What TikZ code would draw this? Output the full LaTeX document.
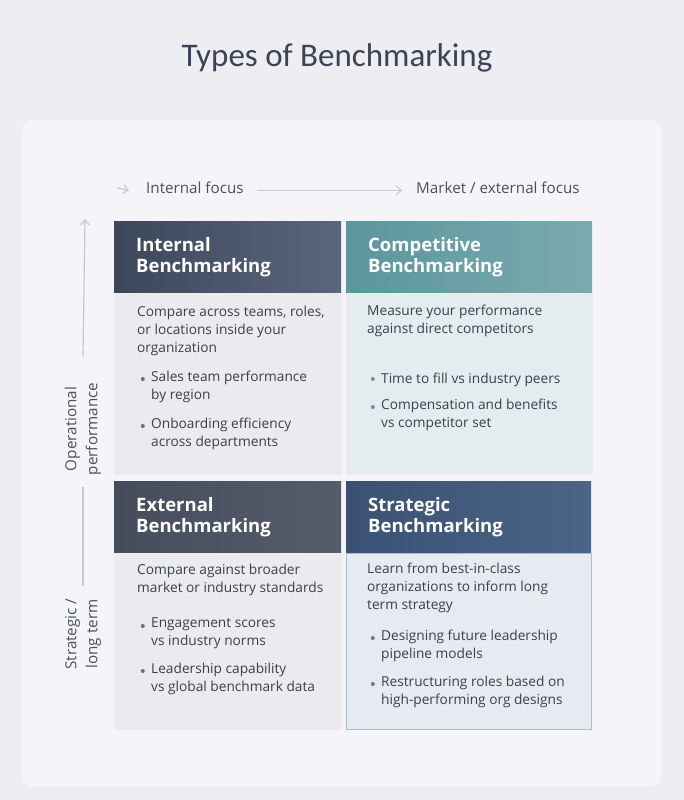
\documentclass[tikz,border=0pt]{standalone}
\usepackage{fontspec}
\setmainfont{Open Sans}
\newfontfamily\titlefont{Carlito}
\usetikzlibrary{arrows.meta,positioning}
\usepackage{xcolor}
\definecolor{PageBg}{HTML}{EDEDF2}
\definecolor{PanelBg}{HTML}{F5F5F9}
\definecolor{TitleInk}{HTML}{3B4457}
\definecolor{BodyInk}{HTML}{3A4050}
\definecolor{AxisInk}{HTML}{4A5060}
\definecolor{AxisLine}{HTML}{C6C9D2}
\definecolor{SlateA}{HTML}{3D475B}
\definecolor{SlateB}{HTML}{5A667E}
\definecolor{TealA}{HTML}{5B969C}
\definecolor{TealB}{HTML}{7BAAB0}
\definecolor{GreyA}{HTML}{454C5C}
\definecolor{GreyB}{HTML}{555D6D}
\definecolor{NavyA}{HTML}{3B5173}
\definecolor{NavyB}{HTML}{4B6587}
\definecolor{BodyGrey}{HTML}{EAEAEF}
\definecolor{BodyTeal}{HTML}{E4ECEF}
\definecolor{BodyNavy}{HTML}{E7EAF0}
\definecolor{DotGrey}{HTML}{6A7080}
\definecolor{DotTeal}{HTML}{5C9AA0}
\definecolor{DotNavy}{HTML}{6A7890}

% bullet line: name, x, baseline y, dot colour, text
\newcommand{\bpoint}[5]{%
  \fill[#4] (#2+1.8,#3-4) circle (2pt);
  \node[btext] (#1) at (#2+10,#3) {#5};}

\begin{document}
\begin{tikzpicture}[x=1pt, y=-1pt,
  qhead/.style={anchor=north west, inner xsep=22pt, inner ysep=0pt,
                minimum height=72pt, align=left, text=white,
                font=\fontsize{18.5}{21.5}\selectfont\bfseries},
  qbody/.style={anchor=north, inner sep=0pt, draw=black!7},
  % text placed by the baseline of its first line
  btext/.style={anchor=north west, yshift=12.6pt, align=left, inner sep=0pt,
                text=BodyInk, font=\fontsize{13.7}{18}\selectfont,
                execute at begin node=\strut},
  axislbl/.style={inner sep=3pt, text=AxisInk, align=center,
                  font=\fontsize{15.2}{21}\selectfont},
  axis/.style={draw=AxisLine, line width=1.2pt},
  tip/.style={-{Straight Barb[length=5pt, width=9pt]}}
]
  % page and panel
  \fill[PageBg] (0,0) rectangle (684,800);
  \fill[PanelBg, rounded corners=10pt] (22,120) rectangle (661,787);

  \node[font=\titlefont\fontsize{33}{40}\selectfont, text=TitleInk] (title) at (337,58) {Types of Benchmarking};

  % horizontal axis
  \node[axislbl, anchor=base west] (intfocus) at (143,193) {Internal focus};
  \node[axislbl, anchor=base west] (mktfocus) at (413,193) {Market / external focus};
  \coordinate (chev) at (117,188);
  \draw[axis, tip] (chev) -- ([xshift=-14pt]intfocus.mid west);
  \draw[axis, tip] ([xshift=10pt]intfocus.mid east) -- ([xshift=-11pt]mktfocus.mid west);

  % vertical axis
  \node[axislbl, rotate=90] (opperf) at (83,429) {Operational\\performance};
  \node[axislbl, rotate=90] (strat) at (83,634) {Strategic /\\long term};
  \coordinate (vtop) at (85,219);
  \draw[axis, tip] ([yshift=23pt]opperf.east) -- (vtop);
  \draw[axis] ([yshift=-9pt]opperf.west) -- ([yshift=9pt]strat.east);

  % quadrant headers
  \node[qhead, left color=SlateA, right color=SlateB, minimum width=227pt, text width=183pt] (inthdr) at (114,221) {Internal\\Benchmarking};
  \node[qhead, left color=TealA, right color=TealB, minimum width=246pt, text width=202pt] (comphdr) at (346,221) {Competitive\\Benchmarking};
  \node[qhead, left color=GreyA, right color=GreyB, minimum width=227pt, text width=183pt] (exthdr) at (114,481) {External\\Benchmarking};
  \node[qhead, left color=NavyA, right color=NavyB, minimum width=245pt, text width=201pt] (strhdr) at (346,481) {Strategic\\Benchmarking};

  % quadrant bodies
  \node[qbody, fill=BodyGrey, minimum width=227pt, minimum height=181pt, below=0pt of inthdr] (intbody) {};
  \node[qbody, fill=BodyTeal, minimum width=246pt, minimum height=181pt, below=0pt of comphdr] (compbody) {};
  \node[qbody, fill=BodyGrey, minimum width=227pt, minimum height=176pt, below=0pt of exthdr] (extbody) {};
  \node[qbody, fill=BodyNavy, draw=NavyB!45, minimum width=245pt, minimum height=176pt, below=0pt of strhdr] (strbody) {};

  % internal
  \node[btext] (intdesc) at (137,318) {Compare across teams, roles,\\or locations inside your\\organization};
  \bpoint{int1}{141}{383}{DotGrey}{Sales team performance\\by region}
  \bpoint{int2}{141}{430}{DotGrey}{Onboarding efficiency\\across departments}

  % competitive
  \node[btext] (compdesc) at (367,317) {Measure your performance\\against direct competitors};
  \bpoint{comp1}{371}{383}{DotTeal}{Time to fill vs industry peers}
  \bpoint{comp2}{371}{411}{DotTeal}{Compensation and benefits\\vs competitor set}

  % external
  \node[btext] (extdesc) at (137,576) {Compare against broader\\market or industry standards};
  \bpoint{ext1}{141}{630}{DotGrey}{Engagement scores\\vs industry norms}
  \bpoint{ext2}{141}{675}{DotGrey}{Leadership capability\\vs global benchmark data}

  % strategic
  \node[btext] (strdesc) at (367,575) {Learn from best-in-class\\organizations to inform long\\term strategy};
  \bpoint{str1}{371}{642}{DotNavy}{Designing future leadership\\pipeline models}
  \bpoint{str2}{371}{688}{DotNavy}{Restructuring roles based on\\high-performing org designs}
\end{tikzpicture}
\end{document}
